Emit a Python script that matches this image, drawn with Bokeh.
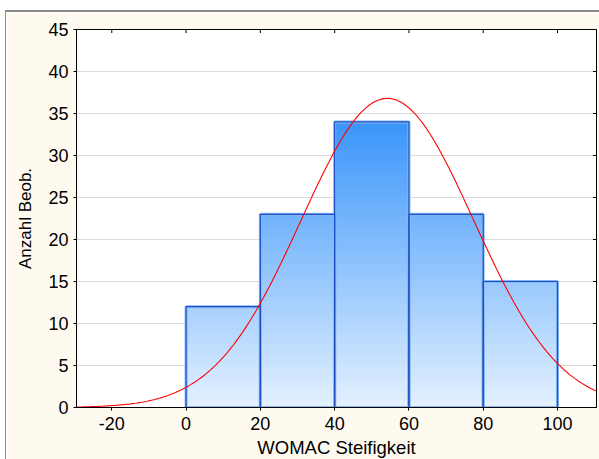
import numpy as np
from bokeh.plotting import figure
from bokeh.models import FixedTicker, Range1d, ColumnDataSource
from bokeh.embed import file_html
from bokeh.resources import INLINE

# ---- data ----
bin_left = [0, 20, 40, 60, 80]
bin_right = [20, 40, 60, 80, 100]
counts = [12, 23, 34, 23, 15]
x_ticks = [-20, 0, 20, 40, 60, 80, 100]
y_ticks = [0, 5, 10, 15, 20, 25, 30, 35, 40, 45]
fit_mean = 54.2   # fitted normal curve
fit_sd = 23.2
x_label = "WOMAC Steifigkeit"
y_label = "Anzahl Beob."

FONT = "Liberation Sans"
x_lo, x_hi = -29.5, 110.5
y_lo, y_hi = 0, 45

p = figure(width=593, height=447, output_backend="svg", toolbar_location=None,
           x_range=Range1d(x_lo, x_hi), y_range=Range1d(y_lo, y_hi),
           frame_width=520, frame_height=378,
           min_border_left=70, min_border_right=3, min_border_top=17, min_border_bottom=52)
p.border_fill_color = "#FFFAF0"
p.background_fill_color = "white"
p.outline_line_color = "black"
p.outline_line_width = 1
p.styles = {"border-top": "2px solid #8a8a8a", "border-left": "1px solid #8a8a8a",
            "margin-left": "5px", "margin-top": "10px"}

# grid
p.xgrid.visible = False
p.ygrid.ticker = FixedTicker(ticks=y_ticks)
p.ygrid.grid_line_color = "#D9D9D9"
p.ygrid.grid_line_width = 1

# axes
for ax in (p.xaxis[0], p.yaxis[0]):
    ax.axis_line_color = "black"
    ax.major_tick_line_color = "black"
    ax.minor_tick_line_color = None
    ax.major_tick_in = 0
    ax.major_tick_out = 3
    ax.major_label_text_font = FONT
    ax.major_label_text_font_size = "18px"
    ax.major_label_text_color = "black"
    ax.axis_label_text_font = FONT
    ax.axis_label_text_font_style = "normal"
    ax.axis_label_text_color = "black"
p.xaxis[0].axis_label_text_font_size = "18.5px"
p.yaxis[0].axis_label_text_font_size = "17px"
p.xaxis[0].ticker = FixedTicker(ticks=x_ticks)
p.yaxis[0].ticker = FixedTicker(ticks=y_ticks)
p.xaxis[0].major_label_overrides = {t: str(t) for t in x_ticks}
p.xaxis[0].axis_label = x_label
p.yaxis[0].axis_label = y_label
p.xaxis[0].major_label_standoff = 6
p.xaxis[0].axis_label_standoff = 4
p.yaxis[0].major_label_standoff = 5
p.yaxis[0].axis_label_standoff = 10

# gradient-filled bars (colour depends on absolute height);
# nested rectangles from the bar bottom, tallest first, so no seams appear
c_bot = np.array([228, 241, 255])
c_top = np.array([58, 149, 250])
g_max = max(counts)
step = 0.125
levels = []
for l, r, c in zip(bin_left, bin_right, counts):
    y1 = float(c)
    while y1 > 1e-9:
        f = min(max(y1 - step / 2, 0) / g_max, 1.0)
        col = c_bot + (c_top - c_bot) * f
        levels.append((y1, l, r, "#%02x%02x%02x" % tuple(int(round(v)) for v in col)))
        y1 -= step
levels.sort(key=lambda t: -t[0])
p.quad(left=[t[1] for t in levels], right=[t[2] for t in levels],
       bottom=[0] * len(levels), top=[t[0] for t in levels],
       fill_color=[t[3] for t in levels], line_color=None)

bars = ColumnDataSource(dict(left=bin_left, right=bin_right, top=counts, bottom=[0] * len(counts)))
p.quad(left="left", right="right", top="top", bottom="bottom", source=bars,
       fill_color=None, line_color="#86B8F5", line_width=3)
p.quad(left="left", right="right", top="top", bottom="bottom", source=bars,
       fill_color=None, line_color="#1E4FC6", line_width=1.2)

# fitted normal curve
n_total = sum(counts)
bw = bin_right[0] - bin_left[0]
xs = np.linspace(x_lo, x_hi, 400)
ys = n_total * bw / (fit_sd * np.sqrt(2 * np.pi)) * np.exp(-0.5 * ((xs - fit_mean) / fit_sd) ** 2)
p.line(xs, ys, line_color="#FF0000", line_width=1.1)

# mirrored inner ticks on top and right frame edges (outer halves clipped by frame)
p.scatter(x=x_ticks, y=[y_hi] * len(x_ticks), marker="dash", angle=np.pi / 2,
          size=7, line_color="black", line_width=1)
p.scatter(x=[x_hi] * len(y_ticks), y=y_ticks, marker="dash",
          size=7, line_color="black", line_width=1)

open("out.html", "w").write(file_html(p, INLINE))
